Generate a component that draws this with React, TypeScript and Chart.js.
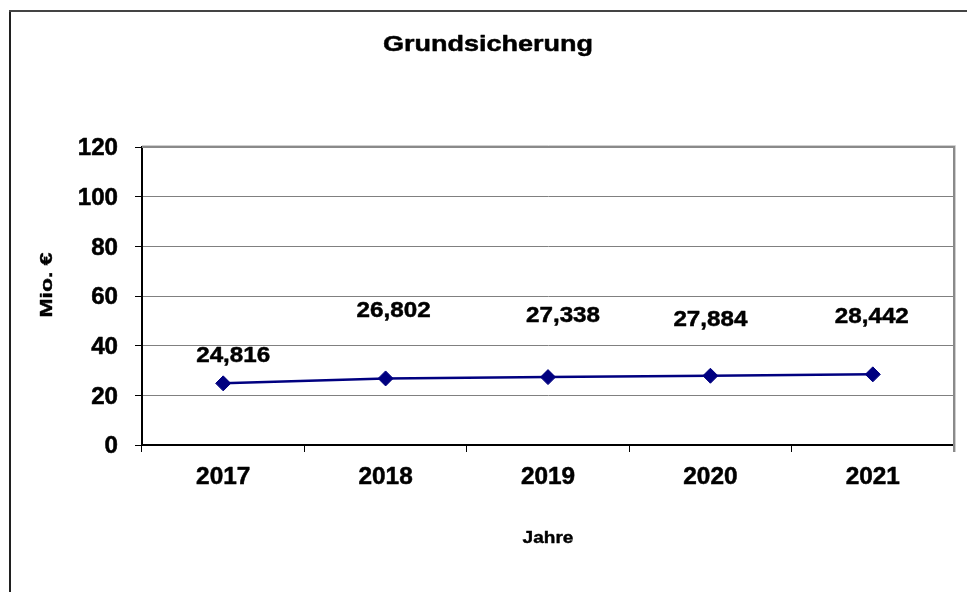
import React, { useEffect, useRef } from "react";
import { Chart, registerables } from "chart.js";

Chart.register(...registerables);

const TITLE = "Grundsicherung";
const Y_TITLE = "Mio. €";
const X_TITLE = "Jahre";
const years = ["2017", "2018", "2019", "2020", "2021"];
const values = [24.816, 26.802, 27.338, 27.884, 28.442];
const valueLabels = ["24,816", "26,802", "27,338", "27,884", "28,442"];
const yMin = 0;
const yMax = 120;
const yStep = 20;
// label nudges relative to each point (dx, baseline dy)
const labelNudges: [number, number][] = [
  [10, -21],
  [8, -61],
  [15, -55],
  [0, -50],
  [-1, -51],
];

const FONT_FAMILY = '"Liberation Sans", Arial, sans-serif';

function drawText(
  ctx: CanvasRenderingContext2D,
  text: string,
  x: number,
  y: number,
  size: number,
  align: CanvasTextAlign,
  sx = 1.08,
  rotate = 0,
  heavy = 0.5
) {
  ctx.save();
  ctx.translate(x, y);
  if (rotate) ctx.rotate(rotate);
  ctx.scale(sx, 1);
  ctx.font = `bold ${size}px ${FONT_FAMILY}`;
  ctx.fillStyle = "#000";
  ctx.strokeStyle = "#000";
  ctx.lineWidth = heavy;
  ctx.lineJoin = "round";
  ctx.textAlign = align;
  ctx.textBaseline = "alphabetic";
  ctx.fillText(text, 0, 0);
  if (heavy > 0) ctx.strokeText(text, 0, 0);
  ctx.restore();
}

const decorPlugin = {
  id: "decor",
  beforeDraw(chart: any) {
    const ctx = chart.ctx as CanvasRenderingContext2D;
    ctx.save();
    ctx.fillStyle = "#fff";
    ctx.fillRect(0, 0, chart.width, chart.height);
    ctx.lineWidth = 2;
    ctx.strokeStyle = "#202020";
    ctx.beginPath();
    ctx.moveTo(10, chart.height + 5);
    ctx.lineTo(10, 11);
    ctx.stroke();
    ctx.strokeStyle = "#444";
    ctx.beginPath();
    ctx.moveTo(9, 11);
    ctx.lineTo(chart.width + 5, 11);
    ctx.stroke();
    ctx.restore();
  },
  afterDatasetsDraw(chart: any) {
    const ctx = chart.ctx as CanvasRenderingContext2D;
    const area = chart.chartArea;
    const yScale = chart.scales.y;
    const xScale = chart.scales.x;

    // plot border (top/right) in gray
    ctx.save();
    ctx.strokeStyle = "#8a8a8a";
    ctx.lineWidth = 2;
    ctx.beginPath();
    ctx.moveTo(area.left, area.top);
    ctx.lineTo(area.right, area.top);
    ctx.lineTo(area.right, area.bottom + 7);
    ctx.stroke();
    ctx.strokeStyle = "#cfcfcf";
    ctx.lineWidth = 1;
    ctx.beginPath();
    ctx.moveTo(area.left, area.top - 1.5);
    ctx.lineTo(area.right + 1.5, area.top - 1.5);
    ctx.lineTo(area.right + 1.5, area.bottom + 7);
    ctx.stroke();
    ctx.restore();

    // y tick labels
    const tickSize = 23;
    yScale.ticks.forEach((t: any) => {
      const y = yScale.getPixelForValue(t.value);
      drawText(ctx, String(t.value), area.left - 24, y + tickSize * 0.358, tickSize, "right", 1.05);
    });
    // x tick labels
    years.forEach((lab, i) => {
      const x = xScale.getPixelForValue(i);
      drawText(ctx, lab, x, area.bottom + 38.5, tickSize, "center", 1.06);
    });
    // data labels
    const meta = chart.getDatasetMeta(0);
    meta.data.forEach((pt: any, i: number) => {
      const [dx, dy] = labelNudges[i];
      drawText(ctx, valueLabels[i], pt.x + dx, pt.y + dy, 22, "center", 1.1);
    });
    // title
    drawText(ctx, TITLE, 488, 51, 22.5, "center", 1.2);
    // axis titles
    drawText(ctx, Y_TITLE, 52, 285, 17, "center", 1.35, -Math.PI / 2, 0.4);
    drawText(ctx, X_TITLE, (area.left + area.right) / 2, 543, 17, "center", 1.12, 0, 0.4);
  },
};

export default function App() {
  const canvasRef = useRef<HTMLCanvasElement | null>(null);

  useEffect(() => {
    document.body.style.margin = "0";
    document.body.style.overflow = "hidden";
    const canvas = canvasRef.current;
    if (!canvas) return;
    const chart = new Chart(canvas, {
      type: "line",
      data: {
        labels: years,
        datasets: [
          {
            data: values,
            borderColor: "#000080",
            backgroundColor: "#000080",
            borderWidth: 2.5,
            pointStyle: "rectRot",
            pointRadius: 7.5,
            pointBorderWidth: 1,
            pointBackgroundColor: "#000080",
            pointBorderColor: "#000080",
            tension: 0,
            fill: false,
          },
        ],
      },
      options: {
        animation: false,
        responsive: false,
        devicePixelRatio: 1,
        layout: { padding: { left: 142, top: 147, right: 13, bottom: 147 } },
        plugins: {
          legend: { display: false },
          title: { display: false },
          tooltip: { enabled: false },
        },
        scales: {
          x: {
            type: "category",
            offset: true,
            afterFit: (s: any) => {
              s.height = 0;
            },
            ticks: { display: false },
            grid: {
              offset: true,
              drawOnChartArea: false,
              drawTicks: true,
              tickLength: 7,
              tickColor: "#000",
              color: "#000",
            },
            border: { color: "#000", width: 2 },
          },
          y: {
            type: "linear",
            min: yMin,
            max: yMax,
            afterFit: (s: any) => {
              s.width = 0;
            },
            ticks: { display: false, stepSize: yStep },
            grid: {
              color: "#808080",
              lineWidth: 1,
              drawTicks: true,
              tickLength: 7,
              tickColor: "#000",
            },
            border: { color: "#000", width: 2 },
          },
        },
      } as any,
      plugins: [decorPlugin],
    });
    return () => chart.destroy();
  }, []);

  return (
    <div style={{ width: 967, height: 592, position: "relative" }}>
      <canvas ref={canvasRef} width={967} height={592} style={{ display: "block" }} />
    </div>
  );
}
